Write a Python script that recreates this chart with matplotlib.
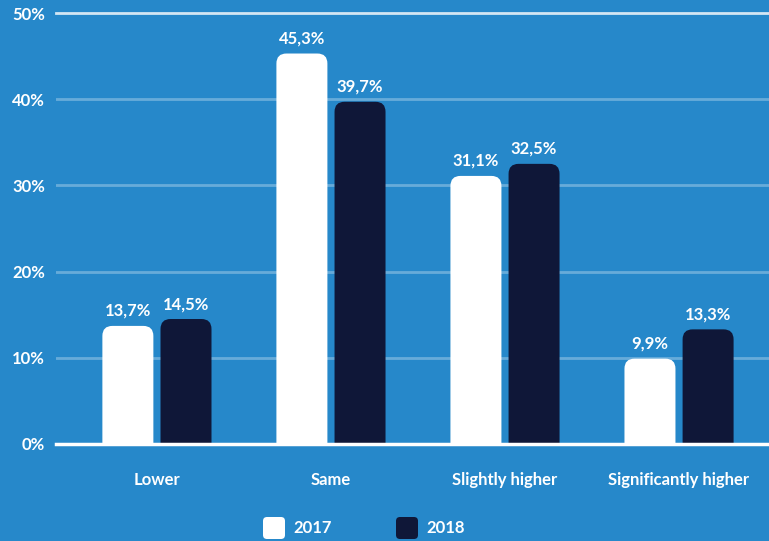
"""Grouped bar chart: 2017 vs 2018 comparison."""

import numpy as np
import matplotlib
matplotlib.use("Agg")
import matplotlib.pyplot as plt
from matplotlib.patches import FancyBboxPatch

categories = ["Lower", "Same", "Slightly higher", "Significantly higher"]
years = ["2017", "2018"]
values_2017 = [13.7, 45.3, 31.1, 9.9]
values_2018 = [14.5, 39.7, 32.5, 13.3]
y_ticks = [0, 10, 20, 30, 40, 50]

BG = "#2688ca"
NAVY = "#0f1738"
WHITE = "#ffffff"

plt.rcParams["font.family"] = ["Lato", "DejaVu Sans"]

W, H = 769, 541
fig = plt.figure(figsize=(W / 100, H / 100), dpi=100, facecolor=BG)
ax = fig.add_axes([56 / W, (H - 444) / H, 1 - 56 / W, (444 - 13) / H])
ax.set_facecolor(BG)

x = np.arange(len(categories))
ax.set_xlim(-0.58, 3.517)
ax.set_ylim(0, 50)

# grid
for t in y_ticks[1:-1]:
    ax.axhline(t, color="white", alpha=0.3, lw=2, zorder=1)
ax.axhline(50, color="white", alpha=0.8, lw=2, zorder=1, clip_on=False)
ax.axhline(0, color="white", lw=2.5, zorder=5, clip_on=False)

width = 0.293
offset = 0.167
# data-units per pixel
px_x = (3.517 + 0.58) / (W - 56)
px_y = 50 / (444 - 13)
radius = 10 * px_x
aspect = px_y / px_x

for vals, dx, color in [(values_2017, -offset, WHITE), (values_2018, offset, NAVY)]:
    for xi, v in zip(x, vals):
        left = xi + dx - width / 2
        patch = FancyBboxPatch((left, -2), width, v + 2,
                               boxstyle=f"round,pad=0,rounding_size={radius}",
                               mutation_aspect=aspect, fc=color, ec="none", zorder=3)
        ax.add_patch(patch)
        label = f"{v:.1f}%".replace(".", ",")
        ax.annotate(label, (xi + dx, v), xytext=(0, 5), textcoords="offset points",
                    ha="center", va="bottom", color="white", fontsize=12,
                    fontweight="bold")

for s in ax.spines.values():
    s.set_visible(False)

ax.set_yticks(y_ticks)
ax.set_yticklabels([f"{t}%" for t in y_ticks])
ax.set_xticks(x)
ax.set_xticklabels(categories)
ax.tick_params(axis="y", length=0, pad=8, labelcolor="white", labelsize=12)
ax.tick_params(axis="x", length=0, pad=20, labelcolor="white", labelsize=12)
for lbl in ax.get_xticklabels() + ax.get_yticklabels():
    lbl.set_fontweight("bold")

# legend
for (name, color, lx) in [(years[0], WHITE, 263), (years[1], NAVY, 396)]:
    sq = FancyBboxPatch((lx / W, (H - 539) / H), 22 / W, 22 / H,
                        boxstyle=f"round,pad=0,rounding_size={4 / W}",
                        mutation_aspect=W / H, fc=color, ec="none",
                        transform=fig.transFigure)
    fig.patches.append(sq)
    fig.text((lx + 30) / W, (H - 528) / H, name, color="white", fontsize=12,
             fontweight="bold", va="center", ha="left")

fig.savefig("out.png", dpi=100, facecolor=BG)
